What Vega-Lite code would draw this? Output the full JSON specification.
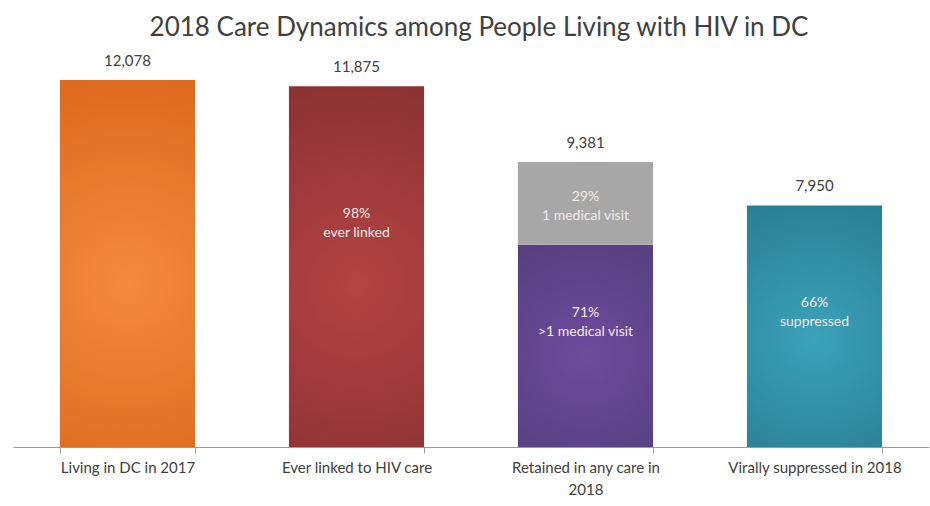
{
  "$schema": "https://vega.github.io/schema/vega-lite/v6.json",
  "width": 916,
  "height": 395,
  "autosize": "none",
  "padding": {"left": 13, "top": 52, "right": 1, "bottom": 59},
  "title": {
    "text": "2018 Care Dynamics among People Living with HIV in DC",
    "font": "Lato",
    "fontSize": 26,
    "fontWeight": "normal",
    "color": "#404040",
    "anchor": "middle",
    "offset": 11,
    "dx": 8
  },
  "data": {
    "values": [
      {"cat": "Living in DC in 2017", "seg": "all", "y0": 0, "y1": 12078, "top": true, "total": "12,078", "label": ""},
      {"cat": "Ever linked to HIV care", "seg": "linked", "y0": 0, "y1": 11875, "top": true, "total": "11,875", "label": "98%\never linked"},
      {"cat": "Retained in any care in 2018", "seg": "multi", "y0": 0, "y1": 6660, "top": false, "total": "", "label": "71%\n>1 medical visit"},
      {"cat": "Retained in any care in 2018", "seg": "one", "y0": 6660, "y1": 9381, "top": true, "total": "9,381", "label": "29%\n1 medical visit"},
      {"cat": "Virally suppressed in 2018", "seg": "supp", "y0": 0, "y1": 7950, "top": true, "total": "7,950", "label": "66%\nsuppressed"}
    ]
  },
  "encoding": {
    "x": {
      "field": "cat",
      "type": "nominal",
      "sort": null,
      "scale": {"paddingInner": 0.41, "paddingOuter": 0.205},
      "axis": {
        "title": null,
        "labelAngle": 0,
        "labelFont": "Lato",
        "labelFontSize": 15,
        "labelColor": "#404040",
        "labelPadding": 7,
        "labelLineHeight": 22,
        "labelExpr": "datum.value == 'Retained in any care in 2018' ? ['Retained in any care in', '2018'] : datum.value",
        "domainColor": "#9a9a9a",
        "tickColor": "#9a9a9a",
        "tickSize": 6,
        "tickBand": "extent",
        "labelLimit": 300
      }
    }
  },
  "layer": [
    {
      "transform": [{"filter": "datum.seg == 'all'"}],
      "mark": {"type": "bar", "fill": {"gradient": "radial", "x1": 0.5, "y1": 0.55, "r1": 0, "x2": 0.5, "y2": 0.55, "r2": 0.6, "stops": [{"offset": 0, "color": "#f38b3c"}, {"offset": 1, "color": "#dc681c"}]}},
      "encoding": {
        "y": {"field": "y0", "type": "quantitative", "scale": {"domain": [0, 13000]}, "axis": null},
        "y2": {"field": "y1"}
      }
    },
    {
      "transform": [{"filter": "datum.seg == 'linked'"}],
      "mark": {"type": "bar", "fill": {"gradient": "radial", "x1": 0.5, "y1": 0.55, "r1": 0, "x2": 0.5, "y2": 0.55, "r2": 0.6, "stops": [{"offset": 0, "color": "#b54343"}, {"offset": 1, "color": "#8a3131"}]}},
      "encoding": {
        "y": {"field": "y0", "type": "quantitative", "scale": {"domain": [0, 13000]}, "axis": null},
        "y2": {"field": "y1"}
      }
    },
    {
      "transform": [{"filter": "datum.seg == 'multi'"}],
      "mark": {"type": "bar", "fill": {"gradient": "radial", "x1": 0.5, "y1": 0.55, "r1": 0, "x2": 0.5, "y2": 0.55, "r2": 0.6, "stops": [{"offset": 0, "color": "#6d4b9e"}, {"offset": 1, "color": "#574080"}]}},
      "encoding": {
        "y": {"field": "y0", "type": "quantitative", "scale": {"domain": [0, 13000]}, "axis": null},
        "y2": {"field": "y1"}
      }
    },
    {
      "transform": [{"filter": "datum.seg == 'one'"}],
      "mark": {"type": "bar", "fill": "#a7a7a7"},
      "encoding": {
        "y": {"field": "y0", "type": "quantitative", "scale": {"domain": [0, 13000]}, "axis": null},
        "y2": {"field": "y1"}
      }
    },
    {
      "transform": [{"filter": "datum.seg == 'supp'"}],
      "mark": {"type": "bar", "fill": {"gradient": "radial", "x1": 0.5, "y1": 0.55, "r1": 0, "x2": 0.5, "y2": 0.55, "r2": 0.6, "stops": [{"offset": 0, "color": "#3aa2ba"}, {"offset": 1, "color": "#2a7f94"}]}},
      "encoding": {
        "y": {"field": "y0", "type": "quantitative", "scale": {"domain": [0, 13000]}, "axis": null},
        "y2": {"field": "y1"}
      }
    },
    {
      "transform": [{"filter": "datum.top"}],
      "mark": {"type": "text", "font": "Lato", "fontSize": 15, "color": "#404040", "baseline": "bottom", "dy": -11},
      "encoding": {
        "y": {"field": "y1", "type": "quantitative", "scale": {"domain": [0, 13000]}},
        "text": {"field": "total"}
      }
    },
    {
      "transform": [
        {"filter": "datum.label != ''"},
        {"calculate": "datum.y0 + (datum.seg == 'one' ? 0.47 : datum.seg == 'supp' ? 0.56 : 0.62) * (datum.y1 - datum.y0)", "as": "ly"}
      ],
      "mark": {"type": "text", "font": "Lato", "fontSize": 14, "color": "#f4eaea", "baseline": "middle", "lineBreak": "\n", "lineHeight": 19, "dy": -9},
      "encoding": {
        "y": {"field": "ly", "type": "quantitative", "scale": {"domain": [0, 13000]}},
        "text": {"field": "label"}
      }
    }
  ],
  "config": {
    "view": {"stroke": null},
    "background": "white"
  }
}
